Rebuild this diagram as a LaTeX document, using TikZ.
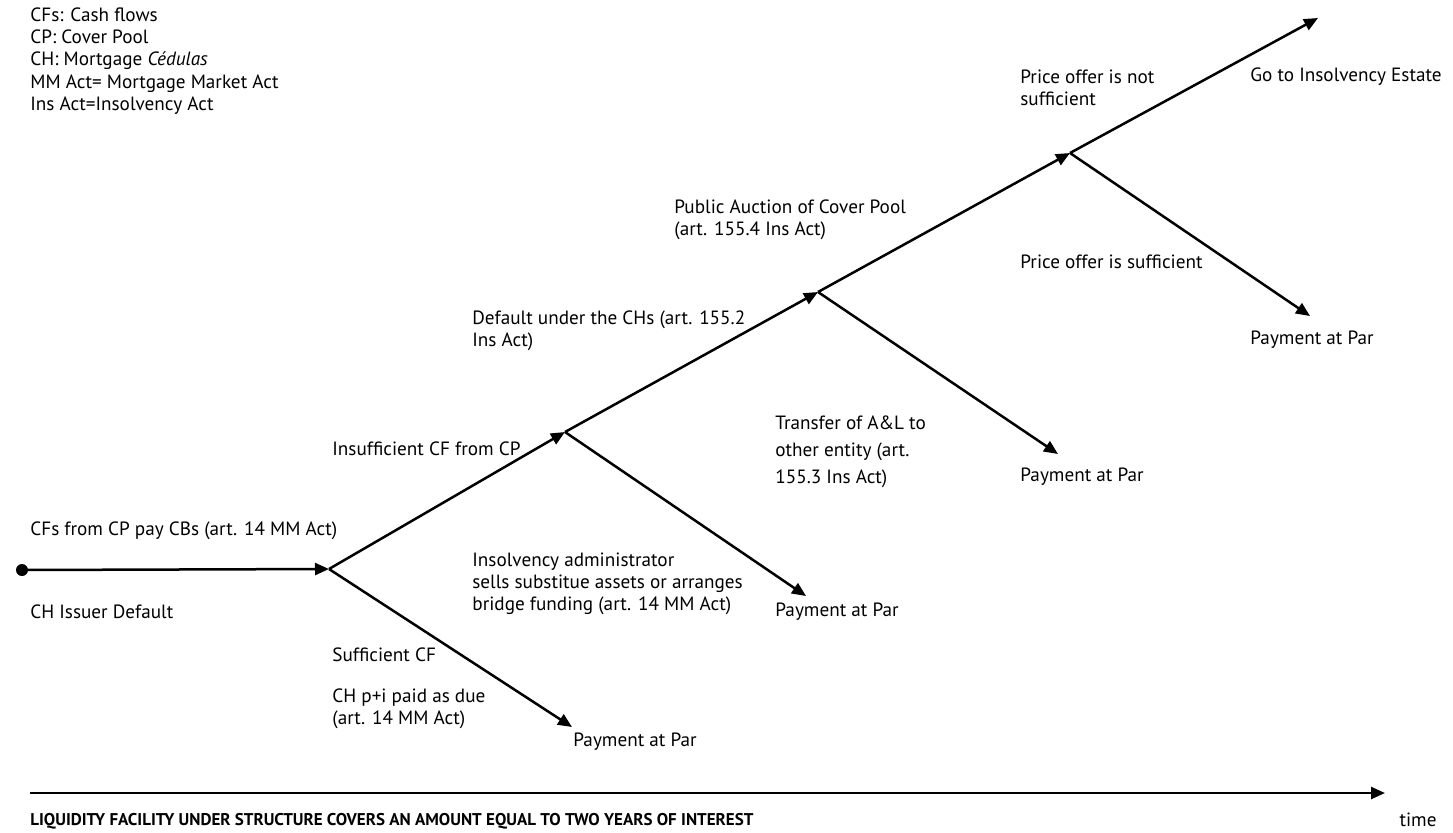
\documentclass[tikz,border=0pt]{standalone}
\usepackage{fontspec}
\setmainfont{PT Sans}
\usetikzlibrary{arrows.meta}
\begin{document}
\begin{tikzpicture}[x=0.5pt,y=-0.5pt,
  lbl/.style={anchor=west,inner sep=0pt,align=left,font=\fontsize{9.6}{11.15}\selectfont},
  conn/.style={line width=1.25pt,-{Triangle[length=7pt,width=6pt]}}]
\useasboundingbox (0,0) rectangle (1453,832);
% legend
\node[lbl,anchor=west] (legend) at (30,61) {CFs: Cash flows\\CP: Cover Pool\\CH: Mortgage \textit{Cédulas}\\MM Act= Mortgage Market Act\\Ins Act=Insolvency Act};
% junctions
\coordinate (start) at (22,570);
\coordinate (p1) at (329,569);
\coordinate (p2) at (565,432);
\coordinate (p3) at (818,292);
\coordinate (p4) at (1070,153);
\coordinate (e5) at (1318,18);
\coordinate (d1) at (572,727);
\coordinate (d2) at (806,596);
\coordinate (d3) at (1058,454);
\coordinate (d4) at (1310,316);
\coordinate (t0) at (30,793);
\coordinate (t1) at (1385,793);
\fill (start) circle (3pt);
\draw[conn] (start) -- (p1);
\draw[conn] (p1) -- (p2);
\draw[conn] (p1) -- (d1);
\draw[conn] (p2) -- (p3);
\draw[conn] (p2) -- (d2);
\draw[conn] (p3) -- (p4);
\draw[conn] (p3) -- (d3);
\draw[conn] (p4) -- (e5);
\draw[conn] (p4) -- (d4);
\draw[conn] (t0) -- (t1);
% labels
\node[lbl] (l1) at (30,531) {CFs from CP pay CBs (art. 14 MM Act)};
\node[lbl] (l2) at (30,612) {CH Issuer Default};
\node[lbl] (l3) at (332,449) {Insufficient CF from CP};
\node[lbl] (l4) at (332,655) {Sufficient CF};
\node[lbl] (l5) at (332,709) {CH p+i paid as due\\(art. 14 MM Act)};
\node[lbl] (pp1) at (573,742) {Payment at Par};
\node[lbl] (l6) at (472,331) {Default under the CHs (art. 155.2\\Ins Act)};
\node[lbl] (l7) at (472,584) {Insolvency administrator\\sells substitue assets or arranges\\bridge funding (art. 14 MM Act)};
\node[lbl] (pp2) at (775,612) {Payment at Par};
\node[lbl] (l8) at (674,220) {Public Auction of Cover Pool\\(art. 155.4 Ins Act)};
\node[lbl,font=\fontsize{9.6}{13.5}\selectfont] (l9) at (775,452) {Transfer of A\&L to\\other entity (art.\\155.3 Ins Act)};
\node[lbl] (pp3) at (1020,477) {Payment at Par};
\node[lbl] (l10) at (1020,88) {Price offer is not\\sufficient};
\node[lbl] (l11) at (1020,262) {Price offer is sufficient};
\node[lbl] (l12) at (1250,77) {Go to Insolvency Estate};
\node[lbl] (pp4) at (1250,340) {Payment at Par};
\node[lbl,font=\bfseries\fontsize{8.5}{11.1}\selectfont] (l13) at (30,821) {LIQUIDITY FACILITY UNDER STRUCTURE COVERS AN AMOUNT EQUAL TO TWO YEARS OF INTEREST};
\node[lbl,anchor=center] (time) at (1418,820) {time};
\end{tikzpicture}
\end{document}
